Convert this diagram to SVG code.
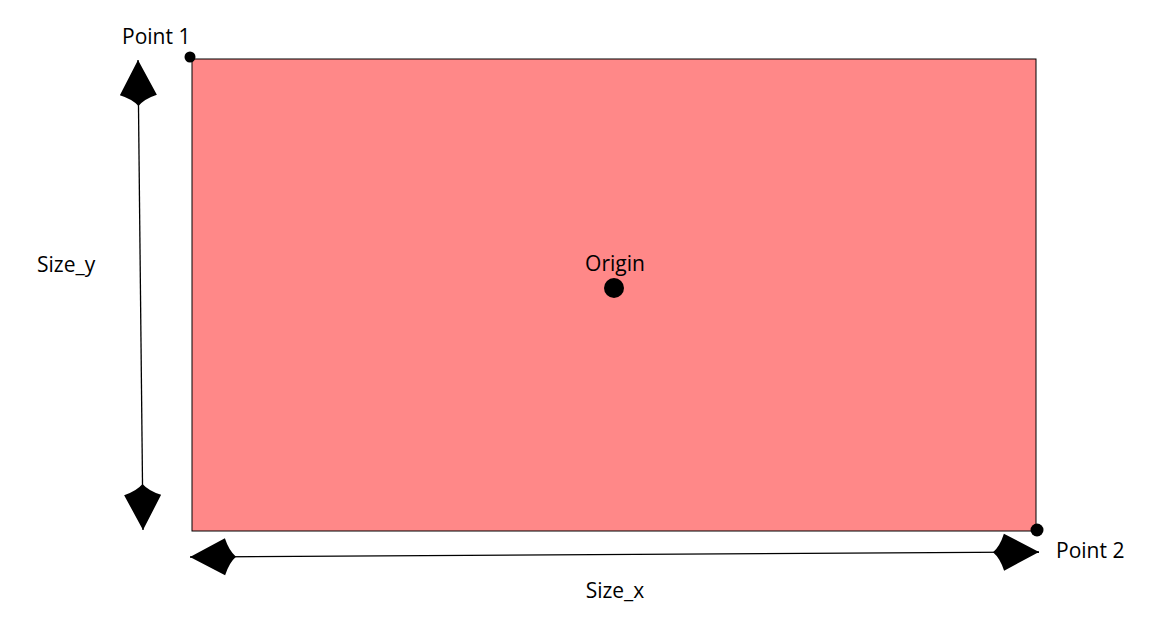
<svg xmlns="http://www.w3.org/2000/svg" width="1174" height="628" viewBox="0 0 1174 628">
<style>
text{font-family:"Open Sans","Liberation Sans",sans-serif;font-size:21px;fill:#000}
.ln{stroke:#000;stroke-width:1.3;fill:none}
</style>
<defs>
<marker id="ah" viewBox="-50 -22 54 44" markerWidth="54" markerHeight="44" refX="0" refY="0" orient="auto-start-reverse" markerUnits="userSpaceOnUse" overflow="visible">
<path d="M0,0 L-35,-18.5 Q-39,-6 -46,0 Q-39,6 -35,18.5 Z" fill="#000"/>
</marker>
</defs>
<rect width="1174" height="628" fill="#fff"/>
<g id="rect">
<rect x="192" y="59" width="844" height="472" fill="#FF8888" stroke="#000" stroke-width="1"/>
</g>
<g id="connectors">
<line class="ln" x1="138" y1="60" x2="143" y2="530" marker-start="url(#ah)" marker-end="url(#ah)"/>
<line class="ln" x1="190" y1="557" x2="1039" y2="552" marker-start="url(#ah)" marker-end="url(#ah)"/>
</g>
<g id="point1">
<circle cx="190" cy="57" r="5.5" fill="#000"/>
<text x="122" y="44">Point 1</text>
</g>
<g id="point2">
<circle cx="1037" cy="530" r="6.5" fill="#000"/>
<text x="1056" y="558">Point 2</text>
</g>
<g id="origin">
<circle cx="614" cy="288" r="10" fill="#000"/>
<text x="615" y="271" text-anchor="middle">Origin</text>
</g>
<g id="size_y"><text x="37" y="272">Size_y</text></g>
<g id="size_x"><text x="615" y="598" text-anchor="middle">Size_x</text></g>
</svg>
